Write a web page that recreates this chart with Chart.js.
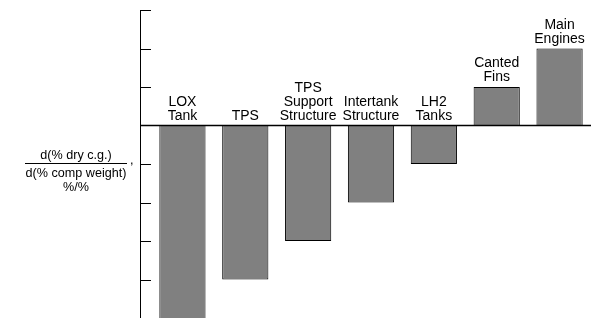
<!DOCTYPE html>
<html>
<head>
<meta charset="utf-8">
<script src="https://cdn.jsdelivr.net/npm/chart.js@4"></script>
<style>
  html, body { margin: 0; padding: 0; background: #fff; }
  #wrap { width: 591px; height: 318px; }
</style>
</head>
<body>
<div id="wrap"><canvas id="cgChart" width="591" height="318"></canvas></div>
<script>
// components (label lines) and sensitivity values, %/%
const components = [
  ['LOX', 'Tank'],
  ['TPS'],
  ['TPS', 'Support', 'Structure'],
  ['Intertank', 'Structure'],
  ['LH2', 'Tanks'],
  ['Canted', 'Fins'],
  ['Main', 'Engines']
];
const sensitivity = [-5.6, -4, -3, -2, -1, 1, 2];
const yMin = -5;
const yMax = 3;
const titleTop = 'd(% dry c.g.)';
const titleBottom = 'd(% comp weight)';
const titleUnits = '%/%';

const FONT = '"Liberation Sans", Arial, sans-serif';

// axis line, inward ticks, zero line, bar labels and the fraction title
const decorations = {
  id: 'decorations',
  afterDraw(chart) {
    const c = chart.ctx;
    const area = chart.chartArea;
    const y = chart.scales.y;
    const axisX = area.left - 11;
    const zero = y.getPixelForValue(0);

    c.save();
    c.strokeStyle = '#000';
    c.lineWidth = 1;

    c.beginPath();
    c.moveTo(axisX + 0.5, y.getPixelForValue(y.max));
    c.lineTo(axisX + 0.5, y.getPixelForValue(y.min) + 1);
    for (let v = y.min; v <= y.max; v++) {
      if (v === 0) continue;
      const py = Math.round(y.getPixelForValue(v)) + 0.5;
      c.moveTo(axisX, py);
      c.lineTo(axisX + 11, py);
    }
    c.stroke();

    c.lineWidth = 1.5;
    c.beginPath();
    c.moveTo(axisX, zero);
    c.lineTo(chart.width, zero);
    c.stroke();

    // labels over each bar
    c.fillStyle = '#000';
    c.font = '14px ' + FONT;
    c.textAlign = 'center';
    c.textBaseline = 'alphabetic';
    const meta = chart.getDatasetMeta(0);
    meta.data.forEach((bar, i) => {
      const v = sensitivity[i];
      const anchor = v < 0 ? zero : y.getPixelForValue(v);
      const lines = components[i];
      lines.forEach((txt, k) => {
        const base = anchor - 6 - (lines.length - 1 - k) * 14;
        c.fillText(txt, bar.x, base);
      });
    });

    // y axis title as a fraction
    c.font = '12.6px ' + FONT;
    const cx = 76;
    c.fillText(titleTop, cx, 159);
    c.fillText(titleBottom, cx, 176.5);
    c.fillText(titleUnits, cx, 190.5);
    c.lineWidth = 1;
    c.beginPath();
    c.moveTo(25, 163.5);
    c.lineTo(127, 163.5);
    c.stroke();
    c.textAlign = 'left';
    c.fillText(',', 130, 164);
    c.restore();
  }
};

new Chart(document.getElementById('cgChart'), {
  type: 'bar',
  data: {
    labels: components.map(l => l.join(' ')),
    datasets: [{
      data: sensitivity,
      backgroundColor: '#808080',
      borderColor: '#000',
      borderWidth: 1,
      barPercentage: 0.735,
      categoryPercentage: 1
    }]
  },
  options: {
    responsive: false,
    animation: false,
    layout: { padding: { left: 151, top: 10, right: 0, bottom: 0 } },
    plugins: {
      legend: { display: false },
      tooltip: { enabled: false }
    },
    scales: {
      x: { display: false },
      y: {
        display: false,
        min: yMin,
        max: yMax,
        ticks: { stepSize: 1 }
      }
    }
  },
  plugins: [decorations]
});
</script>
</body>
</html>
